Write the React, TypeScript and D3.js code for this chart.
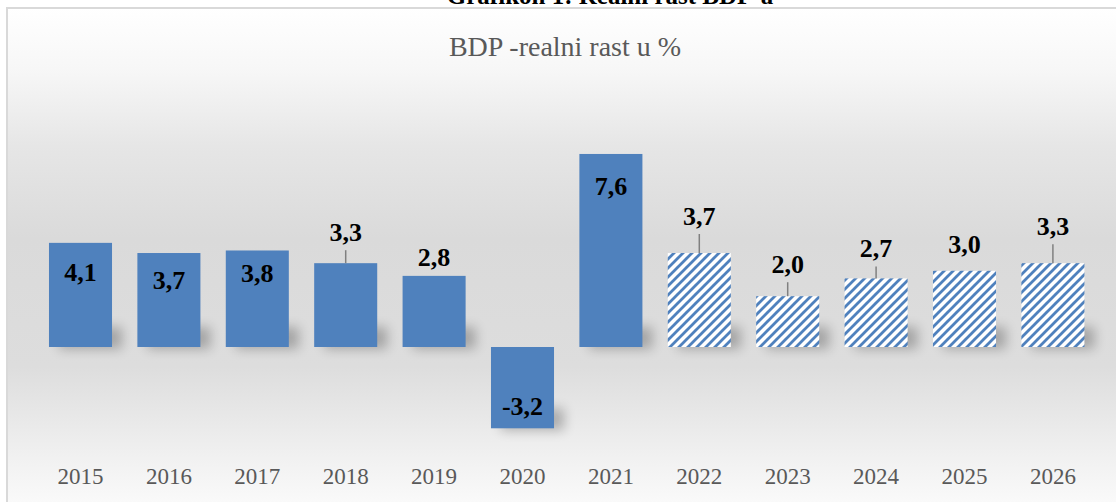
import React from 'react';
import * as d3 from 'd3';

// chart values
const years = ['2015', '2016', '2017', '2018', '2019', '2020', '2021', '2022', '2023', '2024', '2025', '2026'];
const growth = [4.1, 3.7, 3.8, 3.3, 2.8, -3.2, 7.6, 3.7, 2.0, 2.7, 3.0, 3.3];
const projected = [false, false, false, false, false, false, false, true, true, true, true, true];

// label placement (px from bar end, baseline) and whether a leader line is drawn
const labelNudge = [38, 36, 32, -22, -10, -13, 41, -28, -23, -21, -18, -28];
const hasLeader = [false, false, false, true, false, false, false, true, true, true, false, true];

const width = 1116;
const height = 502;
const blue = '#4f81bd';
const serif = "'Liberation Serif', 'Times New Roman', Times, 'DejaVu Serif', serif";

const App = () => {
  const x = d3.scaleBand<string>()
    .domain(years)
    .range([36.3, 1097.1])
    .paddingInner(0.287)
    .paddingOuter(0.1435);

  const y = d3.scaleLinear().domain([-4, 8]).range([448.6, 143.8]);
  const y0 = y(0);

  const fmt = (v: number) => d3.format('.1f')(v).replace('.', ',').replace('\u2212', '-');

  return (
    <div style={{ position: 'absolute', left: 0, top: 0 }}>
      <svg width={width} height={height} style={{ display: 'block', fontFamily: serif }}>
        <defs>
          <linearGradient id="bg" x1="0" y1="0" x2="0" y2="1">
            <stop offset="0" stopColor="#ffffff" />
            <stop offset="0.12" stopColor="#f7f7f7" />
            <stop offset="0.27" stopColor="#e6e6e6" />
            <stop offset="0.45" stopColor="#dadada" />
            <stop offset="0.7" stopColor="#dddddd" />
            <stop offset="0.88" stopColor="#f1f1f1" />
            <stop offset="1" stopColor="#fdfdfd" />
          </linearGradient>
          <pattern id="hatch" patternUnits="userSpaceOnUse" width="9" height="9">
            <rect width="9" height="9" fill="#ffffff" />
            <path d="M-2,2 L2,-2 M0,9 L9,0 M7,11 L11,7" stroke={blue} strokeWidth="2.8" />
          </pattern>
          <filter id="blur" x="-50%" y="-50%" width="200%" height="200%">
            <feGaussianBlur stdDeviation="6" />
          </filter>
        </defs>

        {/* chart frame */}
        <rect x={7} y={8} width={width + 10} height={height + 10} fill="url(#bg)" stroke="#d9d9d9" strokeWidth={2} />

        {/* document caption, cut off at the top like in the source */}
        <text x={610} y={4} textAnchor="middle" style={{ fontFamily: serif }} fontWeight="bold" fontSize={25} fill="#000">
          Grafikon 1: Realni rast BDP-a
        </text>

        <text x={565} y={56} textAnchor="middle" style={{ fontFamily: serif }} fontSize={28} fill="#595959">
          BDP -realni rast u %
        </text>

        {/* shadows */}
        {years.map((yr, i) => {
          const bottom = Math.max(y(growth[i]), y0);
          return (
            <rect key={'s' + yr} x={(x(yr) as number) + 10} y={bottom - 20} width={x.bandwidth()} height={22}
              fill="#000" opacity={0.25} filter="url(#blur)" />
          );
        })}

        {/* bars */}
        {years.map((yr, i) => (
          <rect key={'b' + yr}
            x={x(yr)}
            y={Math.min(y(growth[i]), y0)}
            width={x.bandwidth()}
            height={Math.abs(y(growth[i]) - y0)}
            fill={projected[i] ? 'url(#hatch)' : blue} />
        ))}

        {/* leader lines */}
        {years.map((yr, i) => hasLeader[i] ? (
          <line key={'l' + yr}
            x1={(x(yr) as number) + x.bandwidth() / 2}
            x2={(x(yr) as number) + x.bandwidth() / 2}
            y1={y(growth[i]) + labelNudge[i] + 9}
            y2={y(growth[i])}
            stroke="#808080" strokeWidth={1.5} />
        ) : null)}

        {/* data labels */}
        {years.map((yr, i) => (
          <text key={'t' + yr}
            x={(x(yr) as number) + x.bandwidth() / 2}
            y={y(growth[i]) + labelNudge[i]}
            textAnchor="middle" style={{ fontFamily: serif }} fontWeight="bold" fontSize={26} fill="#000">
            {fmt(growth[i])}
          </text>
        ))}

        {/* category axis labels */}
        {years.map((yr) => (
          <text key={'a' + yr}
            x={(x(yr) as number) + x.bandwidth() / 2}
            y={484}
            textAnchor="middle" style={{ fontFamily: serif }} fontSize={23} fill="#595959">
            {yr}
          </text>
        ))}
      </svg>
    </div>
  );
};

export default App;
